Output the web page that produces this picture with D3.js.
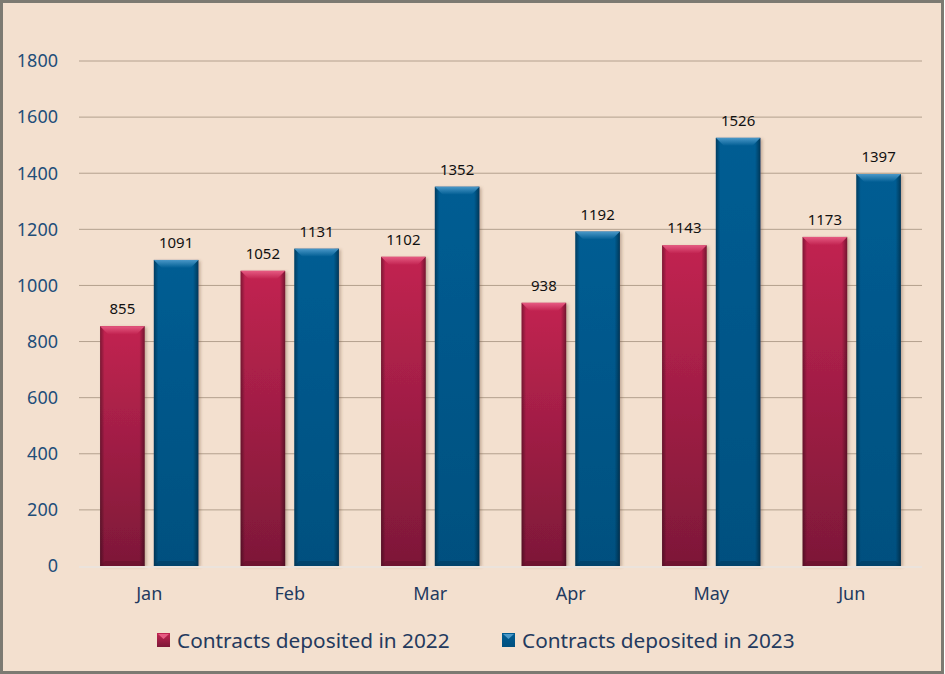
<!DOCTYPE html>
<html>
<head>
<meta charset="utf-8">
<script src="https://cdn.jsdelivr.net/npm/d3@7"></script>
<style>
  body { margin: 0; background: #fff; }
  #chart { width: 945px; height: 674px; }
  text { font-family: "Noto Sans", "Open Sans", sans-serif; }
</style>
</head>
<body>
<div id="chart"></div>
<script>
// data
const months = ["Jan", "Feb", "Mar", "Apr", "May", "Jun"];
const seriesNames = ["Contracts deposited in 2022", "Contracts deposited in 2023"];
const values2022 = [855, 1052, 1102, 938, 1143, 1173];
const values2023 = [1091, 1131, 1352, 1192, 1526, 1397];
const yTicks = [0, 200, 400, 600, 800, 1000, 1200, 1400, 1600, 1800];

const width = 945, height = 674;
const margin = { top: 61, left: 79, right: 23, bottom: 108 };

const svg = d3.select("#chart").append("svg")
    .attr("width", width)
    .attr("height", height);

// gradients
const defs = svg.append("defs");
const palettes = [
    { id: "s0", top: "#c22451", bottom: "#7d1838", light: "#e65a82", edge: "#5e0f28" },
    { id: "s1", top: "#005d93", bottom: "#00507f", light: "#4a98c8", edge: "#003556" }
];
palettes.forEach(function(p) {
    const g = defs.append("linearGradient").attr("id", "v" + p.id)
        .attr("x1", 0).attr("y1", 0).attr("x2", 0).attr("y2", 1);
    g.append("stop").attr("offset", "0%").attr("stop-color", p.top);
    g.append("stop").attr("offset", "100%").attr("stop-color", p.bottom);
    const b = defs.append("linearGradient").attr("id", "b" + p.id)
        .attr("x1", 0).attr("y1", 0).attr("x2", 0).attr("y2", 1);
    b.append("stop").attr("offset", "0%").attr("stop-color", p.light);
    b.append("stop").attr("offset", "100%").attr("stop-color", p.top);
});
const hg = defs.append("linearGradient").attr("id", "edges")
    .attr("x1", 0).attr("y1", 0).attr("x2", 1).attr("y2", 0);
hg.append("stop").attr("offset", "0%").attr("stop-color", "#000").attr("stop-opacity", 0.35);
hg.append("stop").attr("offset", "10%").attr("stop-color", "#000").attr("stop-opacity", 0);
hg.append("stop").attr("offset", "88%").attr("stop-color", "#000").attr("stop-opacity", 0);
hg.append("stop").attr("offset", "100%").attr("stop-color", "#000").attr("stop-opacity", 0.4);
const shadow = defs.append("filter").attr("id", "shadow")
    .attr("x", "-20%").attr("y", "-10%").attr("width", "150%").attr("height", "120%");
shadow.append("feDropShadow").attr("dx", 2).attr("dy", 1).attr("stdDeviation", 1.5)
    .attr("flood-color", "#6b4a30").attr("flood-opacity", 0.35);

// background + border
svg.append("rect")
    .attr("x", 1.5).attr("y", 1.5)
    .attr("width", width - 4).attr("height", height - 3)
    .attr("fill", "#f3e0cf")
    .attr("stroke", "#7c7a72")
    .attr("stroke-width", 3);

// scales
const x0 = d3.scaleBand()
    .domain(months)
    .range([margin.left, width - margin.right])
    .paddingInner(0.3)
    .paddingOuter(0.15);
const x1 = d3.scaleBand()
    .domain([0, 1])
    .range([0, x0.bandwidth()])
    .paddingInner(0.17);
const yScale = d3.scaleLinear()
    .domain([0, 1800])
    .range([height - margin.bottom, margin.top]);

// grid
svg.append("g")
    .selectAll("line")
    .data(yTicks.slice(1))
    .enter()
    .append("line")
        .attr("x1", margin.left)
        .attr("x2", width - margin.right)
        .attr("y1", function(d) { return yScale(d); })
        .attr("y2", function(d) { return yScale(d); })
        .attr("stroke", "#b3a08e")
        .attr("stroke-width", 1);

// y labels
svg.append("g")
    .selectAll("text")
    .data(yTicks)
    .enter()
    .append("text")
        .attr("x", 58)
        .attr("y", function(d) { return yScale(d); })
        .attr("dy", "0.35em")
        .attr("text-anchor", "end")
        .attr("font-size", 18)
        .attr("fill", "#1f4e79")
        .text(function(d) { return d; });

// bars
const rows = months.map(function(m, i) {
    return { month: m, vals: [values2022[i], values2023[i]] };
});
const groups = svg.append("g").selectAll("g")
    .data(rows)
    .enter()
    .append("g")
    .attr("transform", function(d) { return `translate(${x0(d.month)},0)`; });

const bars = groups.selectAll("g")
    .data(function(d) { return d.vals.map(function(v, s) { return { s: s, v: v }; }); })
    .enter()
    .append("g");

bars.append("rect")
    .attr("x", function(d) { return x1(d.s); })
    .attr("y", function(d) { return yScale(d.v); })
    .attr("width", x1.bandwidth())
    .attr("height", function(d) { return yScale(0) - yScale(d.v); })
    .attr("fill", function(d) { return "url(#v" + palettes[d.s].id + ")"; })
    .attr("filter", "url(#shadow)");

bars.append("rect")
    .attr("x", function(d) { return x1(d.s); })
    .attr("y", function(d) { return yScale(d.v); })
    .attr("width", x1.bandwidth())
    .attr("height", function(d) { return yScale(0) - yScale(d.v); })
    .attr("fill", "url(#edges)");

// top bevel
bars.append("path")
    .attr("d", function(d) {
        const xa = x1(d.s), xb = xa + x1.bandwidth(), yt = yScale(d.v), b = 8;
        return `M${xa},${yt}L${xb},${yt}L${xb - b},${yt + b}L${xa + b},${yt + b}Z`;
    })
    .attr("fill", function(d) { return "url(#b" + palettes[d.s].id + ")"; });

// bottom bevel
bars.append("path")
    .attr("d", function(d) {
        const xa = x1(d.s), xb = xa + x1.bandwidth(), yb = yScale(0), b = 5;
        return `M${xa},${yb}L${xb},${yb}L${xb - b},${yb - b}L${xa + b},${yb - b}Z`;
    })
    .attr("fill", function(d) { return palettes[d.s].edge; })
    .attr("opacity", 0.45);

// value labels
bars.append("text")
    .attr("x", function(d) { return x1(d.s) + x1.bandwidth() / 2; })
    .attr("y", function(d) { return yScale(d.v) - 12; })
    .attr("text-anchor", "middle")
    .attr("font-size", 15)
    .attr("fill", "#111")
    .text(function(d) { return d.v; });

// baseline
svg.append("line")
    .attr("x1", margin.left)
    .attr("x2", width - margin.right)
    .attr("y1", yScale(0) + 1)
    .attr("y2", yScale(0) + 1)
    .attr("stroke", "#ebe3dc")
    .attr("stroke-width", 2);

// x labels
svg.append("g")
    .selectAll("text")
    .data(months)
    .enter()
    .append("text")
        .attr("x", function(d) { return x0(d) + x0.bandwidth() / 2; })
        .attr("y", 600)
        .attr("text-anchor", "middle")
        .attr("font-size", 18)
        .attr("fill", "#1f3a5f")
        .text(function(d) { return d; });

// legend
const legendX = [157, 502];
const legend = svg.append("g").selectAll("g")
    .data(seriesNames)
    .enter()
    .append("g")
    .attr("transform", function(d, i) { return `translate(${legendX[i]},633)`; });
legend.append("rect")
    .attr("width", 13).attr("height", 14)
    .attr("fill", function(d, i) { return "url(#v" + palettes[i].id + ")"; });
legend.append("path")
    .attr("d", "M1,1L12,1L6.5,6Z")
    .attr("fill", function(d, i) { return palettes[i].light; });
legend.append("text")
    .attr("x", 20)
    .attr("y", 15)
    .attr("font-size", 20.8)
    .attr("fill", "#243a5e")
    .text(function(d) { return d; });
</script>
</body>
</html>
